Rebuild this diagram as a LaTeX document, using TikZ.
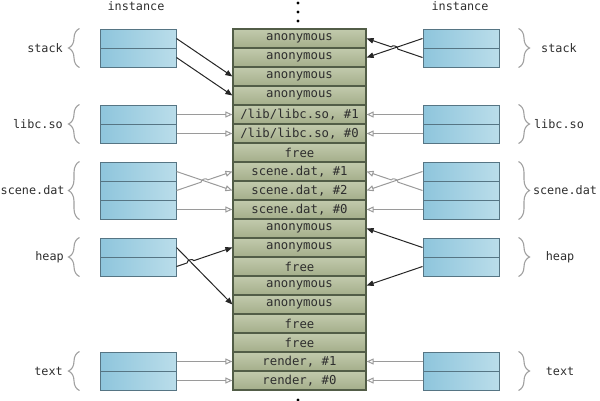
\documentclass[tikz,border=0pt]{standalone}
\usepackage{fontspec}
\setmonofont{DejaVu Sans Mono}
\usetikzlibrary{arrows.meta,calc,decorations.pathreplacing}
\definecolor{celltop}{HTML}{C2CAAD}
\definecolor{cellbot}{HTML}{A4AE8A}
\definecolor{cellborder}{HTML}{525D47}
\definecolor{blueL}{HTML}{8EC5DC}
\definecolor{blueR}{HTML}{BADDEA}
\definecolor{blueborder}{HTML}{567584}
\definecolor{textc}{HTML}{2E2E2E}
\definecolor{grayarrow}{HTML}{9A9A9A}
\definecolor{bracec}{HTML}{A0A0A0}
\newcommand\hopdraw[6]{%
  \coordinate (X) at (intersection of #2--#3 and #4--#5);
  \draw[#1] (#2) -- ($(X)!3.5pt!(#2)$) to[#6] ($(X)!3.5pt!(#3)$) -- (#3);
}
\begin{document}
\begin{tikzpicture}[x=1pt,y=-1pt,
  cell/.style={draw=cellborder, line width=1.2pt, top color=celltop, bottom color=cellbot,
    minimum width=133pt, minimum height=19pt, inner sep=0pt,
    font=\ttfamily\fontsize{12.3}{13}\selectfont, text=textc},
  brow/.style={draw=blueborder, line width=1pt, left color=blueL, right color=blueR,
    minimum width=76pt, minimum height=19pt, inner sep=0pt},
  lab/.style={font=\ttfamily\fontsize{11.8}{13}\selectfont, text=textc, inner sep=0pt},
  blk/.style={draw=black!85, line width=1pt, -{Triangle[length=7pt,width=5.5pt]}},
  gry/.style={draw=grayarrow, line width=1pt, -{Triangle[open,length=7pt,width=6pt]}},
  brc/.style={draw=bracec, line width=1.1pt, decorate, decoration={brace,amplitude=11pt}},
  dotc/.style={fill=black, circle, inner sep=0pt, minimum size=3.4pt}
]
\useasboundingbox (0,0) rectangle (600,400);

% top labels and dots
\node[lab, anchor=base] (inst1) at (136,10) {instance};
\node[lab, anchor=base] (inst2) at (460,10) {instance};
\node[dotc] (d1) at (298,3) {};
\node[dotc] (d2) at (298,12) {};
\node[dotc] (d3) at (298,21) {};
\node[dotc] (d4) at (298,400) {};

% central column
\foreach \t [count=\i] in {anonymous,anonymous,anonymous,anonymous,
  {/lib/libc.so, \#1},{/lib/libc.so, \#0},free,
  {scene.dat, \#1},{scene.dat, \#2},{scene.dat, \#0},
  anonymous,anonymous,free,anonymous,anonymous,free,free,
  {render, \#1},{render, \#0}}
  \node[cell] (c\i) at (299.5,{29+19*(\i-0.5)}) {\t};

% instance boxes
\foreach \k in {1,2,5,6,8,9,10,12,13,18,19}{
  \node[brow] (L\k) at (138,{29+19*(\k-0.5)}) {};
  \node[brow] (R\k) at (461,{29+19*(\k-0.5)}) {};
}

% braces
\foreach \a/\b in {1/2,5/6,8/10,12/13,18/19}{
  \draw[brc] ($(L\b.south west)+(-20,0)$) -- ($(L\a.north west)+(-20,0)$);
  \draw[brc] ($(R\a.north east)+(19,0)$) -- ($(R\b.south east)+(19,0)$);
}
\node[lab, anchor=east] (t1) at (63,48) {stack};
\node[lab, anchor=east] (t2) at (63,124) {libc.so};
\node[lab, anchor=east] (t3) at (64.8,190) {scene.dat};
\node[lab, anchor=east] (t4) at (64,257) {heap};
\node[lab, anchor=east] (t5) at (63,371) {text};
\node[lab] (u1) at (559,48) {stack};
\node[lab] (u2) at (559,124) {libc.so};
\node[lab] (u3) at (565,190) {scene.dat};
\node[lab] (u4) at (560,257) {heap};
\node[lab] (u5) at (560,371) {text};

% stack
\draw[blk] (L1.east) -- (c3.west);
\draw[blk] (L2.east) -- (c4.west);
\draw[blk] (R1.west) -- (c2.east);
\hopdraw{blk}{R2.west}{c1.east}{R1.west}{c2.east}{bend right=90}

% libc
\draw[gry] (L5.east) -- (c5.west);
\draw[gry] (L6.east) -- (c6.west);
\draw[gry] (R5.west) -- (c5.east);
\draw[gry] (R6.west) -- (c6.east);

% scene.dat
\draw[gry] (L8.east) -- (c9.west);
\hopdraw{gry}{L9.east}{c8.west}{L8.east}{c9.west}{bend left=90}
\draw[gry] (L10.east) -- (c10.west);
\draw[gry] (R8.west) -- (c9.east);
\hopdraw{gry}{R9.west}{c8.east}{R8.west}{c9.east}{bend right=90}
\draw[gry] (R10.west) -- (c10.east);

% heap
\draw[blk] (L12.east) -- (c15.west);
\hopdraw{blk}{L13.east}{c12.west}{L12.east}{c15.west}{bend left=90}
\draw[blk] (R12.west) -- (c11.east);
\draw[blk] (R13.west) -- (c14.east);

% text
\draw[gry] (L18.east) -- (c18.west);
\draw[gry] (L19.east) -- (c19.west);
\draw[gry] (R18.west) -- (c18.east);
\draw[gry] (R19.west) -- (c19.east);
\end{tikzpicture}
\end{document}
